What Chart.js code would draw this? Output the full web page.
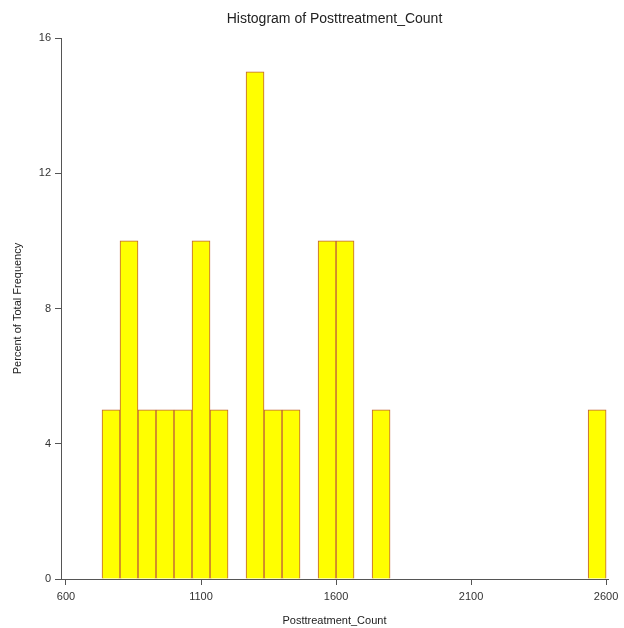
<!DOCTYPE html>
<html>
<head>
<meta charset="utf-8">
<script src="https://cdn.jsdelivr.net/npm/chart.js@4/dist/chart.umd.min.js"></script>
<style>
html,body{margin:0;padding:0;background:#fff;}
#wrap{width:624px;height:628px;position:relative;}
</style>
</head>
<body>
<div id="wrap"><canvas id="c" width="624" height="628"></canvas></div>
<script>
// Bin centers (bin width ~66.7, bins from 733.3 to 2600)
const binCenters = [766.7, 833.3, 900, 966.7, 1033.3, 1100, 1166.7, 1233.3, 1300, 1366.7,
  1433.3, 1500, 1566.7, 1633.3, 1700, 1766.7, 1833.3, 1900, 1966.7, 2033.3,
  2100, 2166.7, 2233.3, 2300, 2366.7, 2433.3, 2500, 2566.7];
// Percent of total frequency per bin
const percentValues = [5, 10, 5, 5, 5, 10, 5, 0, 15, 5,
  5, 0, 10, 10, 0, 5, 0, 0, 0, 0,
  0, 0, 0, 0, 0, 0, 0, 5];
const xTickValues = [600, 1100, 1600, 2100, 2600];
const yTickValues = [0, 4, 8, 12, 16];

const FONT = "'Liberation Sans', Arial, sans-serif";
const axisColor = '#555555';

const data = binCenters.map((x, i) => ({x: x, y: percentValues[i]}));

new Chart(document.getElementById('c'), {
  type: 'bar',
  data: {
    datasets: [{
      data: data,
      backgroundColor: '#ffff00',
      borderColor: '#c0603a',
      borderWidth: 1,
      borderSkipped: 'bottom',
      barPercentage: 1.0,
      categoryPercentage: 1.0
    }]
  },
  options: {
    responsive: false,
    animation: false,
    layout: {padding: {left: 0, right: 16, top: 0, bottom: 0}},
    plugins: {
      legend: {display: false},
      tooltip: {enabled: false},
      title: {
        display: true,
        text: 'Histogram of Posttreatment_Count',
        fullSize: false,
        color: '#222222',
        font: {family: FONT, size: 14, weight: 'normal'},
        padding: {top: 11, bottom: 10.2}
      }
    },
    scales: {
      x: {
        type: 'linear',
        offset: false,
        min: 581.5,
        max: 2607,
        afterBuildTicks: (s) => { s.ticks = xTickValues.map(v => ({value: v})); },
        afterFit: (s) => { s.height = 49; },
        grid: {display: true, offset: false, drawOnChartArea: false, drawTicks: true, tickLength: 6, color: axisColor, lineWidth: 1},
        border: {display: true, color: axisColor, width: 1},
        ticks: {color: '#333333', font: {family: FONT, size: 11}, padding: 5, maxRotation: 0, autoSkip: false,
          callback: (v) => String(v)},
        title: {display: true, text: 'Posttreatment_Count', color: '#222222', font: {family: FONT, size: 11}, padding: {top: 11, bottom: 0}}
      },
      y: {
        type: 'linear',
        min: 0,
        max: 16,
        afterBuildTicks: (s) => { s.ticks = yTickValues.map(v => ({value: v})); },
        afterFit: (s) => { s.width = 61; },
        grid: {display: true, drawOnChartArea: false, drawTicks: true, tickLength: 6, color: axisColor, lineWidth: 1},
        border: {display: true, color: axisColor, width: 1},
        ticks: {color: '#333333', font: {family: FONT, size: 11}, padding: 4, callback: (v) => String(v)},
        title: {display: true, text: 'Percent of Total Frequency', color: '#222222', font: {family: FONT, size: 11}, padding: {top: 11, bottom: 8}}
      }
    }
  }
});
</script>
</body>
</html>
